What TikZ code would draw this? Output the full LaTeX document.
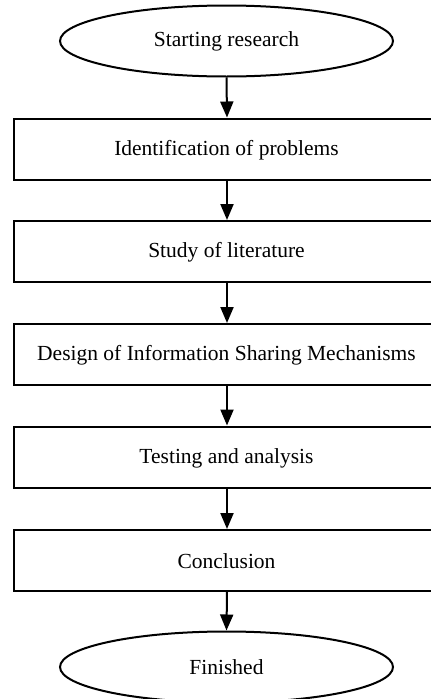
\documentclass[tikz,border=0pt]{standalone}
\usepackage{fontspec}
\setmainfont{Liberation Serif}
\usetikzlibrary{shapes.geometric,arrows.meta}
\begin{document}
\begin{tikzpicture}[x=1pt,y=-1pt,
  txt/.style={font=\fontsize{21.5}{24}\selectfont},
  stepbox/.style={draw,line width=2pt,minimum width=426pt,minimum height=61pt,inner sep=0pt},
  terminal/.style={draw,ellipse,line width=2pt,minimum width=333pt,minimum height=71pt,inner sep=0pt,txt},
  flow/.style={line width=2pt,-{Triangle[length=16pt,width=13pt]}}]
\useasboundingbox (0,0) rectangle (431,699);
\clip (0,0) rectangle (431,699);
\node[terminal] (start) at (226.5,41) {Starting research};
\node[stepbox] (s1) at (227,149) {};
\node[stepbox] (s2) at (227,251.5) {};
\node[stepbox] (s3) at (227,354.5) {};
\node[stepbox] (s4) at (227,457) {};
\node[stepbox] (s5) at (227,560.5) {};
\node[txt] (t1) at (226.5,150) {Identification of problems};
\node[txt] (t2) at (226.5,252.5) {Study of literature};
\node[txt] (t3) at (226.5,355.5) {Design of Information Sharing Mechanisms};
\node[txt] (t4) at (226.5,458) {Testing and analysis};
\node[txt] (t5) at (226.5,561.5) {Conclusion};
\node[terminal] (end) at (226.5,667) {Finished};
\draw[flow] (start.south) -- (s1.north);
\draw[flow] (s1.south) -- (s2.north);
\draw[flow] (s2.south) -- (s3.north);
\draw[flow] (s3.south) -- (s4.north);
\draw[flow] (s4.south) -- (s5.north);
\draw[flow] (s5.south) -- (end.north);
\end{tikzpicture}
\end{document}
